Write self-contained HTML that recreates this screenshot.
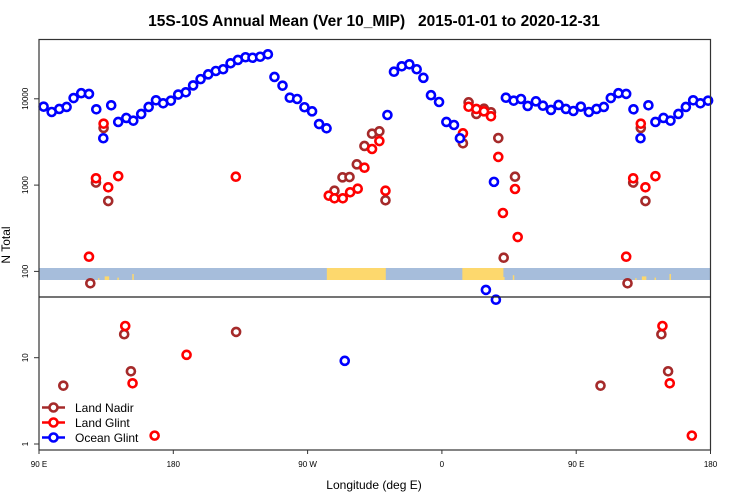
<!DOCTYPE html>
<html><head><meta charset="utf-8"><style>
body{margin:0;background:#fff;}
svg{display:block;font-family:"Liberation Sans",sans-serif;}
</style></head><body>
<svg id="chart" width="750" height="500" viewBox="0 0 750 500" xmlns="http://www.w3.org/2000/svg">
<text x="374" y="26" text-anchor="middle" font-size="15.5" font-weight="bold" style="white-space:pre">15S-10S Annual Mean (Ver 10_MIP)   2015-01-01 to 2020-12-31</text>
<g id="band"></g>
<g id="marks"></g>
<rect x="39" y="39.5" width="671.5" height="410.5" fill="none" stroke="#333" stroke-width="1.2"/>
<line x1="39" y1="297" x2="710.5" y2="297" stroke="#222" stroke-width="1.2"/>
<g id="axes"></g>
<text transform="translate(10,245) rotate(-90)" text-anchor="middle" font-size="12">N Total</text>
<text x="374" y="489" text-anchor="middle" font-size="12">Longitude (deg E)</text>
<g id="legend"></g>
</svg>
<script>
const xTicks=[90,180,270,360,450,540];
const xTickLabels=["90 E","180","90 W","0","90 E","180"];
const yTicks=[1,10,100,1000,10000];
const yTickLabels=["1","10","100","1000","10000"];
const oceanLon=[93.1,98.5,103.6,108.5,113.2,118.3,123.5,128.4,133.1,138.4,143.1,148.5,153.2,158.5,163.5,168.4,173.2,178.4,183.3,188.4,193.3,198.3,203.4,208.5,213.4,218.4,223.3,228.4,233.1,238.2,243.4,247.8,253.2,258.1,263,267.9,273,277.7,282.7,294.9,323.5,327.9,333.1,338.2,343.1,347.6,352.7,358.1,363,368.1,372.1,394.9,389.5,396.2,402.9,408.1,413,417.5,423,427.7,433.1,438.2,443.1,448.1];
const oceanVal=[8110,7030,7620,8040,10200,11600,11400,7560,3490,8410,5390,6000,5580,6670,8040,9610,8870,9510,11200,11900,14300,16900,19200,21000,22000,25800,28200,30300,29900,30700,32800,17900,14200,10300,9950,7980,7160,5100,4550,9.2,6490,20600,23800,25100,22000,17500,11000,9180,5390,4970,3490,1090,61,47,10300,9510,9950,8260,9350,8320,7420,8480,7620,7220];
const glintLon=[133.3,128.2,136.4,143.1,123.5,221.9,147.8,152.7,188.9,167.5,284.2,288,293.6,298.5,303.6,308.1,313.2,318.1,322.2,377.9,383.1,388.2,392.9,374.1,397.8,400.9,409,410.8];
const glintVal=[5150,1200,943,1270,148,1250,23.3,5.05,10.8,1.25,754,703,703,826,908,1590,2620,3240,861,8090,7620,7160,6270,3980,2120,475,901,250];
const nadirLon=[133.3,128.2,136.4,124.4,147.1,151.6,106.3,222.1,288,293.4,298.1,303,308.1,313.2,318.1,322.2,377.9,383.1,388.2,392.9,374.1,397.8,401.4,409];
const nadirVal=[4590,1070,654,72.8,18.7,6.96,4.74,19.9,861,1230,1240,1740,2840,3940,4200,667,9100,6670,7680,6980,3050,3510,144,1250];
const landStart=[282.9,373.7,129.5,134,142.5,152.5,401,407.5];
const landEnd=[322.4,401.2,130.5,137,143.5,153.5,402,408.5];
const landHeight=[1,1,0.15,0.3,0.2,0.5,0.25,0.4];

const NS='http://www.w3.org/2000/svg';
const X0=39,X1=710.5,LON0=90,LON1=540;
function xs(l){return X0+(l-LON0)*(X1-X0)/(LON1-LON0);}
function ys(v){return 444-86.3*Math.log10(v);}
function mk(tag,attrs,parent){const e=document.createElementNS(NS,tag);for(const k in attrs)e.setAttribute(k,attrs[k]);parent.appendChild(e);return e;}

const band=document.getElementById('band');
const bg=mk('rect',{x:X0,y:268,width:X1-X0,height:12,fill:'#a6bddb'},band);


for(let k=0;k<2;k++){
 for(let i=0;i<landStart.length;i++){
  const a=landStart[i]+360*k,b=landEnd[i]+360*k;
  if(a>LON1)continue;
  const x1=xs(a),x2=Math.min(xs(b),X1),h=12*landHeight[i];
  const r=mk('rect',{x:x1,y:280-h,width:x2-x1,height:h,fill:'#fdd86d'},band);
  
  
 }
}

const axes=document.getElementById('axes');
xTicks.forEach((t,i)=>{
 const x=xs(t);
 const tk=mk('line',{x1:x,y1:450,x2:x,y2:454,stroke:'#333'},axes);
 
 
 const tx=mk('text',{x:x,y:467,'text-anchor':'middle','font-size':'8'},axes);
 
 
 tx.textContent=xTickLabels[i];
});
yTicks.forEach((t,i)=>{
 const y=ys(t);
 const tk=mk('line',{x1:34,y1:y,x2:39,y2:y,stroke:'#333'},axes);
 
 
 const tx=mk('text',{transform:`translate(28,${y}) rotate(-90)`,'text-anchor':'middle','font-size':'8'},axes);
 
 
 tx.textContent=yTickLabels[i];
});

const marks=document.getElementById('marks');
function drawSeries(lons,vals,color,name){
 const g=mk('g',{},marks);
 
 
 for(let k=0;k<2;k++){
  lons.forEach((l,i)=>{
   const L=l+360*k;
   if(L<LON0||L>LON1)return;
   const c=mk('circle',{cx:xs(L),cy:ys(vals[i]),r:4,fill:'#fff',stroke:color,'stroke-width':2.6},g);
   
   
  });
 }
}
drawSeries(nadirLon,nadirVal,'#a52a2a','land-nadir');
drawSeries(glintLon,glintVal,'#ff0000','land-glint');
drawSeries(oceanLon,oceanVal,'#0000ff','ocean-glint');

const legend=document.getElementById('legend');
const legNames=['Land Nadir','Land Glint','Ocean Glint'];
const legColors=['#a52a2a','#ff0000','#0000ff'];
legNames.forEach((n,i)=>{
 const y=407.5+15*i;
 const g=mk('g',{},legend);
 
 
 mk('line',{x1:42,y1:y,x2:65,y2:y,stroke:legColors[i],'stroke-width':2.6},g);
 mk('circle',{cx:53.5,cy:y,r:4,fill:'#fff',stroke:legColors[i],'stroke-width':2.6},g);
 const t=mk('text',{x:75,y:y+4.5,'font-size':'12'},g);
 t.textContent=n;
});
</script>
</body></html>
